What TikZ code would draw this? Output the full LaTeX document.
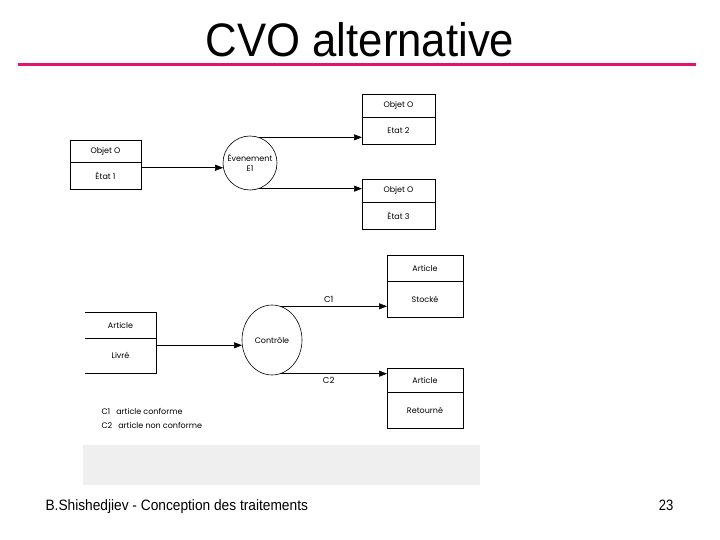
\documentclass[tikz,border=0pt]{standalone}
\usepackage{fontspec}
\setmainfont{Liberation Sans}
\newfontfamily\diagfont{Poppins}
\usepackage{tikz}
\usetikzlibrary{shapes.geometric, arrows.meta, positioning, calc}
\definecolor{titlepink}{RGB}{228,20,108}
\definecolor{panelgray}{RGB}{239,239,239}

\begin{document}
\begin{tikzpicture}[x=1pt, y=-1pt, font=\diagfont\fontsize{8}{9.5}\selectfont]
    % Node Styles
    \tikzstyle{hdr} = [rectangle, draw, minimum width=73pt, minimum height=23pt, inner sep=0pt, outer sep=0pt, line width=0.6pt]
    \tikzstyle{body} = [rectangle, draw, minimum width=73pt, minimum height=27pt, inner sep=0pt, outer sep=0pt, line width=0.6pt]
    \tikzstyle{event} = [circle, draw, minimum size=54pt, inner sep=0pt, align=center, line width=0.6pt]
    \tikzstyle{test} = [ellipse, draw, minimum width=60pt, minimum height=70pt, inner sep=0pt, line width=0.6pt]
    \tikzstyle{flow} = [draw, -{Triangle[length=8pt,width=6pt]}, line width=0.6pt]

    \useasboundingbox (0,0) rectangle (720,540);

    % --- TITLE ---
    \node[anchor=base, font=\rmfamily\fontsize{47}{50}\selectfont] (title) at (360,57) {\scalebox{0.93}[1]{CVO alternative}};
    \draw[titlepink, line width=3pt] (18,64.5) -- (696,64.5);

    % --- TOP: EVENT ---
    \node[hdr, minimum width=71pt, minimum height=22pt] (o1) at (105.5,151) {Objet O};
    \node[body, minimum width=71pt, below=0pt of o1] (e1) {État 1};
    \node[event] (ev) at (250,163) {Évenement\\E1};
    \node[hdr] (o2) at (398.5,105.5) {Objet O};
    \node[body, below=0pt of o2] (e2) {Etat 2};
    \node[hdr] (o3) at (398.5,190.5) {Objet O};
    \node[body, below=0pt of o3] (e3) {État 3};

    \path[flow] (ev.190 -| e1.east) -- (ev.190);
    \path[flow] (ev.70) -- (ev.70 -| e2.west);
    \path[flow] (ev.-70) -- (ev.-70 -| o3.west);

    % --- BOTTOM: CONTROL ---
    \node[hdr, draw=none, minimum width=71pt, minimum height=26pt] (a1) at (120.5,325) {Article};
    \node[body, draw=none, minimum width=71pt, minimum height=35pt, below=0pt of a1] (l1) {Livré};
    \draw[line width=0.6pt] (a1.north west) -- (a1.north east) -- (l1.south east) -- (l1.south west);
    \draw[line width=0.6pt] (a1.south west) -- (a1.south east);

    \node[test] (ctrl) at (272,340) {Contrôle};
    \node[hdr, minimum width=76pt, minimum height=26pt] (a2) at (425,268) {Article};
    \node[body, minimum width=76pt, minimum height=36pt, below=0pt of a2] (s2) {Stocké};
    \node[hdr, minimum width=76pt, minimum height=24pt] (a3) at (425,380) {Article};
    \node[body, minimum width=76pt, minimum height=36pt, below=0pt of a3] (r3) {Retourné};

    \path[flow] (ctrl.190 -| l1.east) -- (ctrl.190);
    \path[flow] (ctrl.75) -- node[above, pos=0.45, font=\diagfont\fontsize{8.5}{10}\selectfont] {C1} (ctrl.75 -| s2.west);
    \path[flow] (ctrl.-75) -- node[below, pos=0.45, font=\diagfont\fontsize{8.5}{10}\selectfont] {C2} (ctrl.-75 -| a3.west);

    % legend
    \node[anchor=west, align=left, font=\diagfont\fontsize{8}{14}\selectfont] (key) at (98,418) {C1\hspace{6pt}article conforme\\C2\hspace{6pt}article non conforme};

    % --- FOOTER ---
    \fill[panelgray] (83,445) rectangle (480,485);
    \node[anchor=base west, font=\rmfamily\fontsize{15}{18}\selectfont] (foot) at (42,510) {\scalebox{0.915}[1]{B.Shishedjiev - Conception des traitements}};
    \node[anchor=base east, font=\rmfamily\fontsize{15}{18}\selectfont] (page) at (677,510) {\scalebox{0.87}[1]{23}};

\end{tikzpicture}
\end{document}
